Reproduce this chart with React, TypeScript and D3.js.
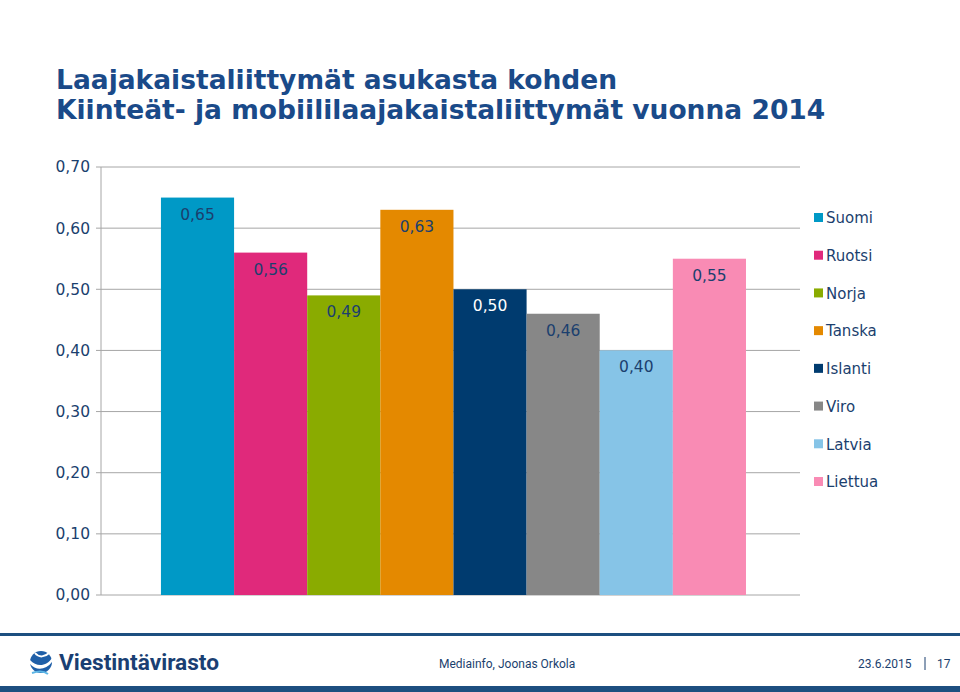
import React from "react";
import * as d3 from "d3";

const seriesNames = ["Suomi", "Ruotsi", "Norja", "Tanska", "Islanti", "Viro", "Latvia", "Liettua"];
const seriesValues = [0.65, 0.56, 0.49, 0.63, 0.5, 0.46, 0.4, 0.55];
const seriesColors = ["#0099C6", "#E0297B", "#8AAB00", "#E48900", "#003B6F", "#878787", "#86C4E7", "#F98BB4"];
const labelColors = ["#1B3F6E", "#1B3F6E", "#1B3F6E", "#1B3F6E", "#FFFFFF", "#1B3F6E", "#1B3F6E", "#1B3F6E"];
const yTicks = [0, 0.1, 0.2, 0.3, 0.4, 0.5, 0.6, 0.7];
const titleLines = ["Laajakaistaliittymät asukasta kohden", "Kiinteät- ja mobiililaajakaistaliittymät vuonna 2014"];

const W = 960;
const H = 692;
const plot = { left: 101, right: 800, top: 167, bottom: 595 };
const font = "Verdana, 'DejaVu Sans', sans-serif";
const textColor = "#1B3F6E";
const fmt = (v: number) => d3.format(".2f")(v).replace(".", ",");

export default function App() {
  const y = d3.scaleLinear().domain([0, 0.7]).range([plot.bottom, plot.top]);
  const outer = d3
    .scaleBand<string>()
    .domain(["2014"])
    .range([plot.left, plot.right])
    .paddingInner(0)
    .paddingOuter(0.0974)
    .align(0.526);
  const x = d3
    .scaleBand<string>()
    .domain(seriesNames)
    .range([outer("2014")!, outer("2014")! + outer.bandwidth()])
    .padding(0);
  const legendY = d3.scalePoint<string>().domain(seriesNames).range([218, 482]);
  const ts = { fontFamily: font };

  return (
    <svg width={W} height={H} style={{ position: "absolute", left: 0, top: 0, background: "#fff" }}>
      <rect width={W} height={H} fill="#fff" />
      {titleLines.map((t, i) => (
        <text key={i} x={56} y={89 + i * 30} fontSize={26.5} fontWeight="bold" fill="#1A4A89" style={ts}>
          {t}
        </text>
      ))}
      {yTicks.map((t) => (
        <g key={t}>
          <line x1={96} x2={plot.right} y1={y(t)} y2={y(t)} stroke="#A6A6A6" strokeWidth={1} />
          <text x={90} y={y(t)} dy="0.35em" textAnchor="end" fontSize={15.5} fill={textColor} style={ts}>
            {fmt(t)}
          </text>
        </g>
      ))}
      <line x1={plot.left} x2={plot.left} y1={plot.top} y2={plot.bottom} stroke="#A6A6A6" strokeWidth={1} />
      {seriesNames.map((s, i) => (
        <g key={s}>
          <rect x={x(s)} y={y(seriesValues[i])} width={x.bandwidth()} height={plot.bottom - y(seriesValues[i])} fill={seriesColors[i]} />
          <text x={x(s)! + x.bandwidth() / 2} y={y(seriesValues[i]) + 22} textAnchor="middle" fontSize={15.5} fill={labelColors[i]} style={ts}>
            {fmt(seriesValues[i])}
          </text>
        </g>
      ))}
      {seriesNames.map((s, i) => (
        <g key={s} transform={`translate(814,${legendY(s)})`}>
          <rect x={0} y={-5} width={9} height={9} fill={seriesColors[i]} />
          <text x={12} y={0} dy="0.35em" fontSize={15} fill={textColor} style={ts}>
            {s}
          </text>
        </g>
      ))}
      <rect x={0} y={633} width={W} height={3} fill="#1D4F80" />
      <rect x={0} y={686} width={W} height={6} fill="#1D4F80" />
      <g transform="translate(41,662)">
        <circle r={11} fill="#1F5FA8" />
        <path d="M-11,-2 C-4,6 6,4 11,-4 L11,0 C5,8 -5,9 -11,2 Z" fill="#fff" />
        <path d="M-6,-9 C-2,-4 4,-5 8,-9" stroke="#fff" strokeWidth={2} fill="none" />
        <path d="M-9,11 C-3,9 3,9 7,12" stroke="#5CB6E6" strokeWidth={2} fill="none" />
      </g>
      <text x={59} y={670} fontSize={22} fontWeight="bold" fill="#1A3F73" style={{ fontFamily: "Roboto" }} textLength={160} lengthAdjust="spacingAndGlyphs">
        Viestintävirasto
      </text>
      <text x={439} y={668} fontSize={12} fill={textColor} style={{ fontFamily: "Roboto" }}>
        Mediainfo, Joonas Orkola
      </text>
      <text x={858} y={668} fontSize={12} fill={textColor} style={{ fontFamily: "Roboto" }}>
        23.6.2015
      </text>
      <line x1={925} x2={925} y1={657} y2={670} stroke={textColor} strokeWidth={1} />
      <text x={937} y={668} fontSize={12} fill={textColor} style={{ fontFamily: "Roboto" }}>
        17
      </text>
    </svg>
  );
}
